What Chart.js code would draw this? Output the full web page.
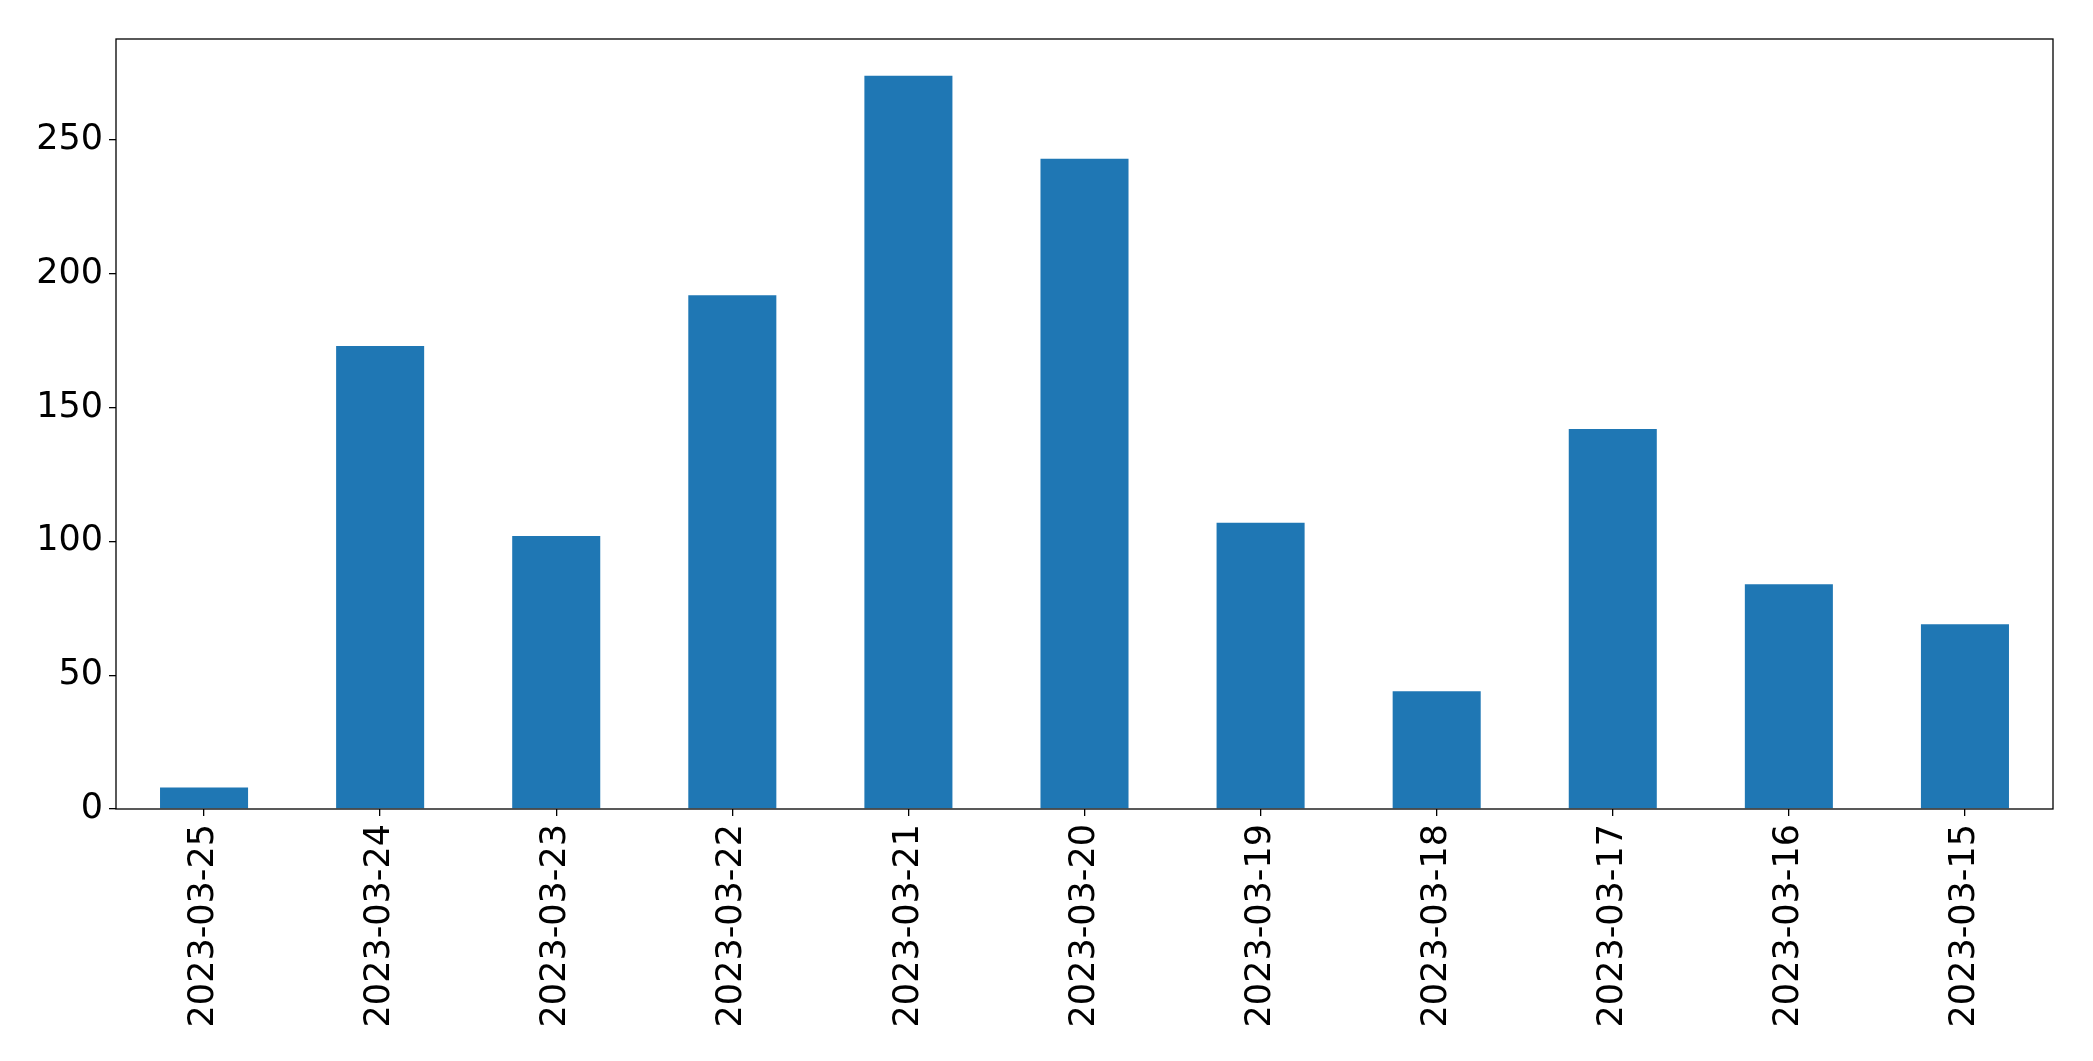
<!DOCTYPE html>
<html>
<head>
<meta charset="utf-8">
<script src="https://cdn.jsdelivr.net/npm/chart.js@4"></script>
<style>
  html, body { margin: 0; padding: 0; background: #fff; }
  #wrap { width: 2093px; height: 1061px; }
</style>
</head>
<body>
<div id="wrap"><canvas id="barChart"></canvas></div>
<script>
const dates = ['2023-03-25', '2023-03-24', '2023-03-23', '2023-03-22', '2023-03-21', '2023-03-20',
               '2023-03-19', '2023-03-18', '2023-03-17', '2023-03-16', '2023-03-15'];
const counts = [8, 173, 102, 192, 274, 243, 107, 44, 142, 84, 69];
const yTicks = [0, 50, 100, 150, 200, 250];

// box around the plot area, like matplotlib's spines
const frame = {
    id: 'frame',
    afterDraw(chart) {
        const a = chart.chartArea;
        const ctx = chart.ctx;
        ctx.save();
        ctx.strokeStyle = '#000';
        ctx.lineWidth = 1.3;
        ctx.strokeRect(a.left, a.top, a.right - a.left, a.bottom - a.top);
        ctx.restore();
    }
};

const ctx = document.getElementById('barChart').getContext('2d');
new Chart(ctx, {
    type: 'bar',
    data: {
        labels: dates,
        datasets: [{
            data: counts,
            backgroundColor: '#1f77b4',
            categoryPercentage: 1.0,
            barPercentage: 0.5
        }]
    },
    options: {
        responsive: true,
        maintainAspectRatio: false,
        animation: false,
        layout: { padding: { top: 39, right: 40, left: 0, bottom: 0 } },
        plugins: { legend: { display: false }, tooltip: { enabled: false } },
        scales: {
            x: {
                offset: true,
                grid: { display: true, offset: false, drawOnChartArea: false, tickLength: 7, color: '#000', lineWidth: 1.3 },
                border: { display: false },
                ticks: {
                    minRotation: 90, maxRotation: 90,
                    color: '#000',
                    padding: 8,
                    font: { family: 'DejaVu Sans', size: 35 }
                },
                afterFit(scale) { scale.height = 252; }
            },
            y: {
                min: 0,
                max: 287.7,
                grid: { display: true, drawOnChartArea: false, tickLength: 7, color: '#000', lineWidth: 1.3 },
                border: { display: false },
                afterBuildTicks(scale) { scale.ticks = yTicks.map(v => ({ value: v })); },
                ticks: {
                    color: '#000',
                    padding: 6,
                    font: { family: 'DejaVu Sans', size: 35 }
                },
                afterFit(scale) { scale.width = 116; }
            }
        }
    },
    plugins: [frame]
});
</script>
</body>
</html>
